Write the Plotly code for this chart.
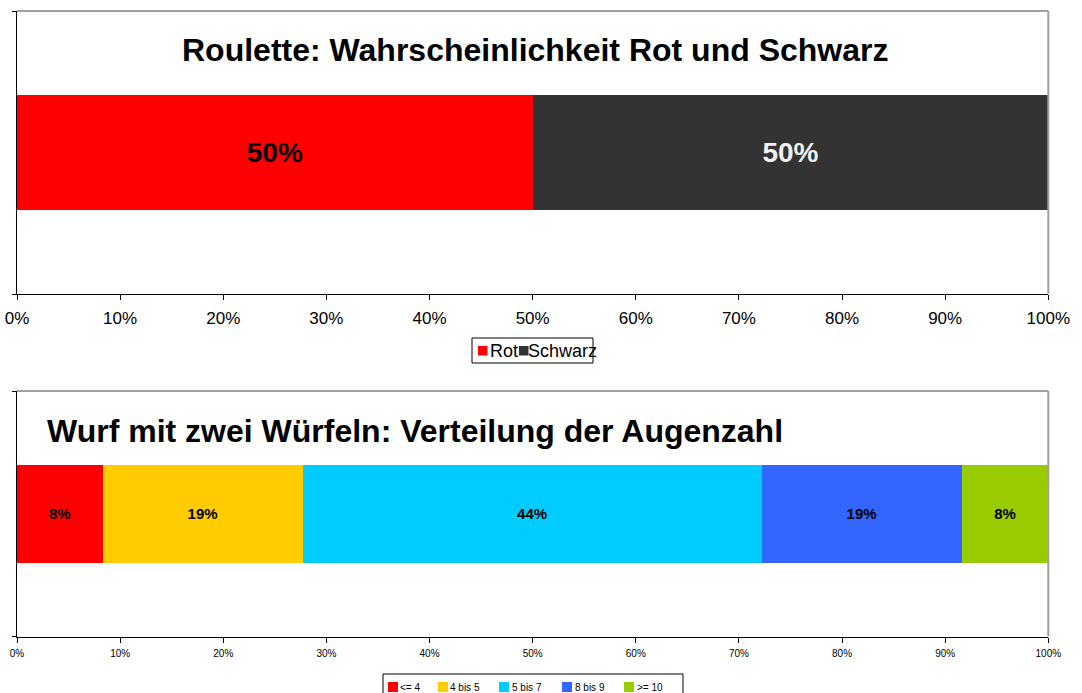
import plotly.graph_objects as go

W, H = 1082, 693

# ---- data ----
roulette_names = ["Rot", "Schwarz"]
roulette_values = [50, 50]
roulette_colors = ["#FF0000", "#333333"]
roulette_textcolors = ["#000000", "#F2F2F2"]

dice_names = ["<= 4", "4 bis 5", "5 bis 7", "8 bis 9", ">= 10"]
dice_values = [8.3, 19.4, 44.5, 19.4, 8.4]
dice_colors = ["#FF0000", "#FFCC00", "#00CCFF", "#3366FF", "#99CC00"]

tick_vals = list(range(0, 101, 10))
tick_text = [f"{v}%" for v in tick_vals]

FONT = "Arial, Liberation Sans, sans-serif"

fig = go.Figure()

for n, v, c, tc in zip(roulette_names, roulette_values, roulette_colors, roulette_textcolors):
    fig.add_trace(go.Bar(
        x=[v], y=[0], name=n, orientation="h", marker=dict(color=c, line=dict(width=0)),
        width=0.403, text=[f"{v:.0f}%"], textposition="inside", insidetextanchor="middle",
        textfont=dict(family=FONT, size=28, color=tc), texttemplate="<b>%{text}</b>",
        xaxis="x", yaxis="y", showlegend=False, hoverinfo="skip"))

for n, v, c in zip(dice_names, dice_values, dice_colors):
    fig.add_trace(go.Bar(
        x=[v], y=[0], name=n, orientation="h", marker=dict(color=c, line=dict(width=0)),
        width=0.4, text=[f"{v:.0f}%"], textposition="inside", insidetextanchor="middle",
        textfont=dict(family=FONT, size=15, color="#000000"), texttemplate="<b>%{text}</b>",
        xaxis="x2", yaxis="y2", showlegend=False, hoverinfo="skip"))

x0, x1 = 17 / W, 1048.3 / W
top_dom = [1 - 294 / H, 1 - 11 / H]
bot_dom = [1 - 636.7 / H, 1 - 391 / H]

xax = dict(range=[0, 100], tickvals=tick_vals, ticktext=tick_text, ticks="outside", ticklen=5,
           tickcolor="black", showline=True, linecolor="black", linewidth=1, showgrid=False,
           zeroline=False, domain=[x0, x1], fixedrange=True, automargin=False)
yax = dict(range=[-0.5, 0.5], tickvals=[-0.5, 0.5], showticklabels=False, ticks="outside", ticklen=4,
           tickcolor="black", showline=True, linecolor="black", linewidth=1, showgrid=False,
           zeroline=False, fixedrange=True, automargin=False)

shapes = []
annotations = [
    dict(text="<b>Roulette: Wahrscheinlichkeit Rot und Schwarz</b>", xref="paper", yref="paper",
         x=534.5 / W, y=1 - 50 / H, xanchor="center", yanchor="middle", showarrow=False,
         font=dict(family=FONT, size=32, color="black")),
    dict(text="<b>Wurf mit zwei Würfeln: Verteilung der Augenzahl</b>", xref="paper", yref="paper",
         x=45 / W, y=1 - 431 / H, xanchor="left", yanchor="middle", showarrow=False,
         font=dict(family=FONT, size=32, color="black")),
]

# plot-area borders (top & right, gray)
for xr, yr in (("x domain", "y domain"), ("x2 domain", "y2 domain")):
    shapes.append(dict(type="line", xref=xr, yref=yr, x0=0, x1=1, y0=1, y1=1,
                       line=dict(color="#A0A0A0", width=2)))
    shapes.append(dict(type="line", xref=xr, yref=yr, x0=1, x1=1, y0=0, y1=1,
                       line=dict(color="#A0A0A0", width=2)))


def px_x(p):
    return p / W


def px_y(p):
    return 1 - p / H


def add_legend(names, colors, box, swatch_x, text_x, sw_y, sw_size, fsize):
    bx0, by0, bx1, by1 = box
    shapes.append(dict(type="rect", xref="paper", yref="paper", x0=px_x(bx0), x1=px_x(bx1),
                       y0=px_y(by1), y1=px_y(by0), line=dict(color="black", width=1),
                       fillcolor="white", layer="below"))
    for n, c, sx, tx in zip(names, colors, swatch_x, text_x):
        shapes.append(dict(type="rect", xref="paper", yref="paper", x0=px_x(sx), x1=px_x(sx + sw_size),
                           y0=px_y(sw_y + sw_size), y1=px_y(sw_y), line=dict(width=0), fillcolor=c))
        annotations.append(dict(text=n, xref="paper", yref="paper", x=px_x(tx), y=px_y(sw_y + sw_size / 2),
                                xanchor="left", yanchor="middle", showarrow=False,
                                font=dict(family=FONT, size=fsize, color="black")))


add_legend(roulette_names, roulette_colors, (472, 338, 593, 363),
           [478, 519], [488, 526], 346, 9.5, 18)
add_legend(dice_names, dice_colors, (383, 674, 683, 700),
           [388, 438, 499, 562, 624], [398, 448, 510, 573, 635], 682, 10, 10)

fig.update_layout(
    width=W, height=H, autosize=False,
    margin=dict(l=0, r=0, t=0, b=0),
    paper_bgcolor="white", plot_bgcolor="white",
    barmode="stack", showlegend=False,
    font=dict(family=FONT, color="black"),
    xaxis=dict(**xax, anchor="y", tickfont=dict(size=17), ticklabelstandoff=4),
    yaxis=dict(**yax, domain=top_dom, anchor="x"),
    xaxis2=dict(**xax, anchor="y2", tickfont=dict(size=10), ticklabelstandoff=2),
    yaxis2=dict(**yax, domain=bot_dom, anchor="x2"),
    annotations=annotations,
    shapes=shapes,
)

fig.write_html(
    "out.html",
    config={"displayModeBar": False},
    post_script="document.body.style.margin='0';document.body.style.overflow='hidden';",
)
